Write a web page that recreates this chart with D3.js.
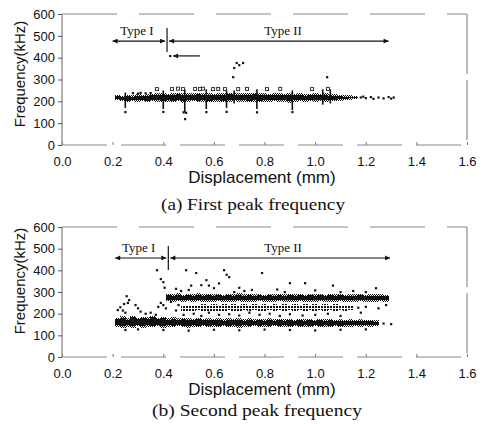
<!DOCTYPE html>
<html lang="en">
<head>
  <meta charset="UTF-8">
  <title>First and second peak frequency vs displacement</title>
  <script src="https://d3js.org/d3.v7.min.js"></script>
  <style>
    html, body {
      margin: 0;
      padding: 0;
      background: #fff;
    }
    svg { display: block; }
    .axis text {
      font-family: "Liberation Sans", Arial, sans-serif;
      font-size: 13px;
      fill: #111;
    }
    .axis-title {
      font-family: "Liberation Sans", Arial, sans-serif;
      fill: #111;
    }
    .serif {
      font-family: "Liberation Serif", "Times New Roman", serif;
      fill: #111;
    }
  </style>
</head>
<body>
  <svg id="chart" width="481" height="424"></svg>
  <script>
    // ---- tick labels ----
    var xTicks = [0.0, 0.2, 0.4, 0.6, 0.8, 1.0, 1.2, 1.4, 1.6];
    var yTicks = [0, 100, 200, 300, 400, 500, 600];

    // ---- (a) first peak frequency ----
    // dense band: [displacement, low kHz, high kHz]
    var firstBand = [
      [0.22, 205, 230], [0.24, 200, 226], [0.26, 195, 230], [0.28, 200, 228],
      [0.30, 198, 232], [0.32, 200, 230], [0.34, 196, 233], [0.36, 200, 235],
      [0.38, 197, 236], [0.40, 195, 238], [0.42, 198, 235], [0.44, 196, 238],
      [0.46, 200, 240], [0.48, 193, 236], [0.50, 198, 238], [0.52, 200, 236],
      [0.54, 196, 240], [0.56, 198, 237], [0.58, 195, 238], [0.60, 199, 235],
      [0.62, 197, 238], [0.64, 195, 236], [0.66, 198, 240], [0.68, 200, 236],
      [0.70, 197, 238], [0.72, 199, 236], [0.74, 196, 238], [0.76, 198, 240],
      [0.78, 195, 236], [0.80, 199, 237], [0.82, 198, 235], [0.84, 200, 238],
      [0.86, 197, 236], [0.88, 199, 234], [0.90, 193, 236], [0.92, 197, 234],
      [0.94, 200, 236], [0.96, 198, 233], [0.98, 201, 235], [1.00, 199, 236],
      [1.02, 200, 234], [1.04, 198, 237], [1.06, 200, 233], [1.08, 201, 232],
      [1.10, 203, 230], [1.12, 205, 229], [1.14, 207, 227], [1.16, 210, 225]
    ];
    // vertical streaks: [displacement, low, high]
    var firstSpikes = [
      [0.25, 170, 240], [0.40, 165, 250], [0.485, 150, 255], [0.57, 165, 255],
      [0.65, 170, 250], [0.68, 190, 250], [0.77, 165, 255], [0.91, 160, 250],
      [1.03, 185, 255], [1.06, 190, 255]
    ];
    // hollow marks above the band
    var firstSquares = [
      [0.375, 256], [0.435, 256], [0.458, 258], [0.478, 256], [0.526, 257],
      [0.545, 256], [0.557, 258], [0.597, 256], [0.617, 257], [0.644, 256],
      [0.696, 256], [0.731, 257], [0.81, 256], [0.862, 257], [0.988, 256],
      [1.051, 257]
    ];
    // scattered points
    var firstPts = [
      [0.28, 238], [0.30, 236], [0.31, 239], [0.33, 237], [0.35, 238],
      [0.25, 151], [0.40, 152], [0.48, 150], [0.49, 148], [0.57, 151],
      [0.65, 152], [0.77, 150], [0.91, 151], [0.486, 119],
      [0.676, 311], [0.68, 353], [0.69, 376], [0.70, 366], [0.715, 376],
      [1.047, 311], [0.427, 408],
      [1.18, 218], [1.19, 222], [1.20, 215], [1.22, 220], [1.23, 212],
      [1.25, 218], [1.27, 214], [1.29, 220], [1.30, 213], [1.31, 218]
    ];

    // ---- (b) second peak frequency ----
    var secondLow = [
      [0.22, 140, 182], [0.24, 134, 188], [0.26, 140, 180], [0.28, 136, 190],
      [0.30, 142, 182], [0.32, 135, 186], [0.34, 140, 184], [0.36, 137, 190],
      [0.38, 141, 181], [0.40, 136, 186], [0.42, 140, 180], [0.44, 137, 184],
      [0.46, 141, 178], [0.48, 138, 182], [0.50, 135, 180], [0.52, 140, 176],
      [0.54, 137, 181], [0.56, 141, 177], [0.58, 138, 180], [0.60, 140, 176],
      [0.62, 137, 179], [0.64, 141, 175], [0.66, 138, 178], [0.68, 140, 176],
      [0.70, 136, 179], [0.72, 140, 175], [0.74, 138, 178], [0.76, 141, 174],
      [0.78, 137, 177], [0.80, 140, 175], [0.82, 138, 178], [0.84, 141, 174],
      [0.86, 137, 176], [0.88, 140, 175], [0.90, 138, 177], [0.92, 141, 173],
      [0.94, 138, 176], [0.96, 140, 174], [0.98, 137, 177], [1.00, 141, 173],
      [1.02, 138, 176], [1.04, 140, 174], [1.06, 137, 176], [1.08, 141, 173],
      [1.10, 138, 175], [1.12, 140, 172], [1.14, 139, 175], [1.16, 141, 172],
      [1.18, 139, 174], [1.20, 142, 171], [1.22, 140, 173], [1.24, 143, 170]
    ];
    var secondHigh = [
      [0.42, 258, 292], [0.44, 255, 290], [0.46, 258, 295], [0.48, 254, 288],
      [0.50, 257, 292], [0.52, 255, 290], [0.54, 258, 294], [0.56, 254, 289],
      [0.58, 256, 292], [0.60, 255, 290], [0.62, 258, 293], [0.64, 254, 288],
      [0.66, 256, 292], [0.68, 255, 290], [0.70, 258, 294], [0.72, 254, 289],
      [0.74, 256, 291], [0.76, 255, 290], [0.78, 258, 293], [0.80, 254, 288],
      [0.82, 256, 291], [0.84, 255, 290], [0.86, 258, 293], [0.88, 254, 289],
      [0.90, 256, 291], [0.92, 255, 290], [0.94, 258, 292], [0.96, 254, 288],
      [0.98, 256, 291], [1.00, 255, 290], [1.02, 258, 292], [1.04, 254, 288],
      [1.06, 256, 291], [1.08, 255, 289], [1.10, 258, 292], [1.12, 254, 288],
      [1.14, 256, 290], [1.16, 255, 289], [1.18, 257, 291], [1.20, 254, 288],
      [1.22, 256, 290], [1.24, 255, 289], [1.26, 257, 290], [1.28, 256, 288]
    ];
    var secondMid = [
      [0.48, 210, 240], [0.50, 214, 236], [0.52, 208, 242], [0.54, 215, 238],
      [0.56, 210, 244], [0.58, 213, 237], [0.60, 209, 243], [0.62, 214, 240],
      [0.64, 211, 245], [0.66, 215, 239], [0.68, 210, 244], [0.70, 213, 240],
      [0.72, 216, 246], [0.74, 212, 241], [0.76, 215, 245], [0.78, 211, 240],
      [0.80, 214, 246], [0.82, 216, 242], [0.84, 212, 245], [0.86, 215, 240],
      [0.88, 213, 246], [0.90, 216, 242], [0.92, 212, 245], [0.94, 215, 241],
      [0.96, 213, 244], [0.98, 216, 240], [1.00, 212, 245], [1.02, 215, 241],
      [1.04, 214, 244], [1.06, 216, 240], [1.08, 213, 243], [1.10, 216, 240],
      [1.12, 214, 242], [1.14, 217, 239]
    ];
    var secondPts = [
      [0.23, 230], [0.24, 215], [0.25, 205], [0.26, 250], [0.255, 281], [0.265, 263],
      [0.245, 245], [0.22, 217], [0.29, 240], [0.30, 225], [0.31, 210], [0.33, 200],
      [0.35, 205], [0.37, 195], [0.38, 232], [0.39, 250], [0.40, 240], [0.41, 225],
      [0.375, 401], [0.39, 360], [0.40, 346], [0.405, 320],
      [0.49, 401], [0.53, 388], [0.57, 355], [0.55, 332], [0.60, 318], [0.51, 330],
      [0.50, 310], [0.47, 305], [0.64, 401], [0.65, 380], [0.66, 369], [0.79, 388],
      [0.90, 341], [0.96, 341], [1.07, 330], [1.24, 318], [0.62, 340], [0.70, 320],
      [0.75, 310], [0.85, 312], [1.00, 308], [1.15, 305], [1.20, 300], [0.68, 300],
      [0.88, 300], [0.58, 330], [0.45, 315], [0.72, 305], [1.10, 300],
      [0.45, 215], [0.48, 195], [0.52, 200], [0.55, 190], [0.58, 205], [0.62, 195],
      [0.66, 198], [0.70, 192], [0.74, 205], [0.78, 195], [0.82, 200], [0.86, 190],
      [0.90, 198], [0.95, 192], [1.00, 195], [1.05, 200], [1.10, 190], [1.18, 205],
      [1.20, 232], [1.25, 225], [1.28, 240], [0.43, 255], [0.46, 240], [1.17, 228],
      [0.25, 125], [0.30, 128], [0.40, 125], [0.50, 122], [0.60, 126], [0.70, 124],
      [0.80, 127], [0.90, 125], [1.00, 123], [1.10, 126], [1.20, 128],
      [1.27, 155], [1.30, 152]
    ];

    // ---- Type I / Type II annotations (data units) ----
    var firstTypes = { start: 0.2, split: 0.415, end: 1.29, freq: 476, splitLo: 426, splitHi: 536 };
    var secondTypes = { start: 0.21, split: 0.42, end: 1.296, freq: 457, splitLo: 401, splitHi: 512 };
    var firstHint = { from: 0.545, to: 0.427, freq: 408 };

    var svg = d3.select("#chart");
    var defs = svg.append("defs");
    defs.append("marker")
      .attr("id", "arrow")
      .attr("viewBox", "0 0 10 10")
      .attr("refX", 10)
      .attr("refY", 5)
      .attr("markerWidth", 9)
      .attr("markerHeight", 5)
      .attr("markerUnits", "userSpaceOnUse")
      .attr("orient", "auto-start-reverse")
      .append("path")
      .attr("d", "M0,0 L10,5 L0,10 z")
      .attr("fill", "#111");

    // checkerboard for the speckled band edges
    var fringe = defs.append("pattern")
      .attr("id", "fringe")
      .attr("width", 2)
      .attr("height", 2)
      .attr("patternUnits", "userSpaceOnUse");
    fringe.append("rect").attr("width", 1).attr("height", 1).attr("fill", "#111");
    fringe.append("rect").attr("x", 1).attr("y", 1).attr("width", 1).attr("height", 1).attr("fill", "#111");

    // coarser dots for the sparse middle band
    var dots = defs.append("pattern")
      .attr("id", "dots")
      .attr("width", 3)
      .attr("height", 3)
      .attr("patternUnits", "userSpaceOnUse");
    dots.append("rect").attr("width", 2).attr("height", 2).attr("fill", "#111");

    function drawPanel(p) {
      var x = d3.scaleLinear().domain([0, 1.6]).range([62, 467]);
      var y = d3.scaleLinear().domain([0, 600]).range([p.bottom, p.top]);
      var g = svg.append("g");

      // frame (scanned look: sides darker, top/bottom broken)
      g.append("line").attr("x1", 62).attr("x2", 62).attr("y1", p.top).attr("y2", p.bottom)
        .attr("stroke", "#666").attr("stroke-width", 1);
      g.append("line").attr("x1", 467).attr("x2", 467).attr("y1", p.top).attr("y2", p.bottom)
        .attr("stroke", "#777").attr("stroke-width", 1).attr("stroke-dasharray", "60,6");
      g.append("line").attr("x1", 62).attr("x2", 467).attr("y1", p.top).attr("y2", p.top)
        .attr("stroke", "#888").attr("stroke-width", 1).attr("stroke-dasharray", "55,22");
      g.append("line").attr("x1", 62).attr("x2", 467).attr("y1", p.bottom).attr("y2", p.bottom)
        .attr("stroke", "#888").attr("stroke-width", 1).attr("stroke-dasharray", "45,14");

      // axes
      var yAxis = g.append("g").attr("class", "axis")
        .attr("transform", "translate(62,0)")
        .call(d3.axisLeft(y).tickValues(yTicks).tickSize(4).tickPadding(3));
      yAxis.select(".domain").remove();
      yAxis.selectAll("line").attr("stroke", "#555");

      var xAxis = g.append("g").attr("class", "axis")
        .attr("transform", "translate(0," + p.bottom + ")")
        .call(d3.axisBottom(x).tickValues(xTicks).tickFormat(d3.format(".1f"))
          .tickSizeInner(-3).tickSizeOuter(0).tickPadding(12));
      xAxis.select(".domain").remove();
      xAxis.selectAll("line").attr("stroke", "#777");

      // bands: speckled outer edge, solid core
      p.bands.forEach(function (b) {
        var bg = g.append("g").attr("shape-rendering", "crispEdges");
        bg.selectAll("rect.edge")
          .data(b.data)
          .join("rect")
          .attr("class", "edge")
          .attr("x", function (d) { return x(d[0] - 0.011); })
          .attr("width", function (d) { return x(d[0] + 0.011) - x(d[0] - 0.011); })
          .attr("y", function (d) { return y(d[2]); })
          .attr("height", function (d) { return y(d[1]) - y(d[2]); })
          .attr("fill", b.solid ? "url(#fringe)" : "url(#dots)");
        if (b.solid) {
          bg.selectAll("rect.core")
            .data(b.data)
            .join("rect")
            .attr("class", "core")
            .attr("x", function (d) { return x(d[0] - 0.011); })
            .attr("width", function (d) { return x(d[0] + 0.011) - x(d[0] - 0.011); })
            .attr("y", function (d) { return y(d[2]) + 1.5; })
            .attr("height", function (d) { return Math.max(0, y(d[1]) - y(d[2]) - 3); })
            .attr("fill", "#111");
        }
      });

      if (p.spikes) {
        g.append("g").selectAll("line")
          .data(p.spikes)
          .join("line")
          .attr("x1", function (d) { return x(d[0]); })
          .attr("x2", function (d) { return x(d[0]); })
          .attr("y1", function (d) { return y(d[1]); })
          .attr("y2", function (d) { return y(d[2]); })
          .attr("stroke", "#111")
          .attr("stroke-width", 1.6);
      }

      if (p.squares) {
        g.append("g").selectAll("rect")
          .data(p.squares)
          .join("rect")
          .attr("x", function (d) { return x(d[0]) - 1.5; })
          .attr("y", function (d) { return y(d[1]) - 1.5; })
          .attr("width", 3)
          .attr("height", 3)
          .attr("fill", "none")
          .attr("stroke", "#222")
          .attr("stroke-width", 0.9);
      }

      g.append("g").selectAll("rect")
        .data(p.points)
        .join("rect")
        .attr("x", function (d) { return x(d[0]) - 1; })
        .attr("y", function (d) { return y(d[1]) - 1; })
        .attr("width", 2.2)
        .attr("height", 2.2)
        .attr("fill", "#111");

      // Type I / Type II arrows
      var t = p.types;
      g.append("line")
        .attr("x1", x(t.start)).attr("x2", x(t.split) - 2)
        .attr("y1", y(t.freq)).attr("y2", y(t.freq))
        .attr("stroke", "#111").attr("stroke-width", 1.2)
        .attr("marker-start", "url(#arrow)").attr("marker-end", "url(#arrow)");
      g.append("line")
        .attr("x1", x(t.split) + 2).attr("x2", x(t.end))
        .attr("y1", y(t.freq)).attr("y2", y(t.freq))
        .attr("stroke", "#111").attr("stroke-width", 1.2)
        .attr("marker-start", "url(#arrow)").attr("marker-end", "url(#arrow)");
      g.append("line")
        .attr("x1", x(t.split)).attr("x2", x(t.split))
        .attr("y1", y(t.splitHi)).attr("y2", y(t.splitLo))
        .attr("stroke", "#111").attr("stroke-width", 1.2);
      g.append("text").attr("class", "serif")
        .attr("x", x((t.start + t.split) / 2) - 3).attr("y", y(t.freq) - 6)
        .attr("text-anchor", "middle").attr("font-size", 13)
        .text("Type I");
      g.append("text").attr("class", "serif")
        .attr("x", 283).attr("y", y(t.freq) - 6)
        .attr("text-anchor", "middle").attr("font-size", 13)
        .text("Type II");

      if (p.hint) {
        g.append("line")
          .attr("x1", x(p.hint.from)).attr("x2", x(p.hint.to) + 3)
          .attr("y1", y(p.hint.freq)).attr("y2", y(p.hint.freq))
          .attr("stroke", "#111").attr("stroke-width", 1.2)
          .attr("marker-end", "url(#arrow)");
      }

      // titles
      g.append("text").attr("class", "axis-title")
        .attr("x", 262).attr("y", p.bottom + 38)
        .attr("text-anchor", "middle").attr("font-size", 17)
        .text("Displacement (mm)");
      g.append("text").attr("class", "axis-title")
        .attr("transform", "translate(25," + p.yTitle + ") rotate(-90)")
        .attr("text-anchor", "middle").attr("font-size", 15)
        .text("Frequency(kHz)");
      g.append("text").attr("class", "serif")
        .attr("x", p.capX).attr("y", p.capY)
        .attr("text-anchor", "middle").attr("font-size", 17)
        .attr("textLength", p.capW).attr("lengthAdjust", "spacingAndGlyphs")
        .text(p.caption);
    }

    drawPanel({
      top: 14, bottom: 145, yTitle: 74,
      bands: [{ data: firstBand, solid: true }],
      spikes: firstSpikes,
      squares: firstSquares,
      points: firstPts,
      types: firstTypes,
      hint: firstHint,
      caption: "(a) First peak frequency", capX: 253, capY: 210, capW: 184
    });

    drawPanel({
      top: 227, bottom: 357, yTitle: 281,
      bands: [
        { data: secondMid, solid: false },
        { data: secondLow, solid: true },
        { data: secondHigh, solid: true }
      ],
      points: secondPts,
      types: secondTypes,
      caption: "(b) Second peak frequency", capX: 257, capY: 416, capW: 210
    });
  </script>
</body>
</html>
